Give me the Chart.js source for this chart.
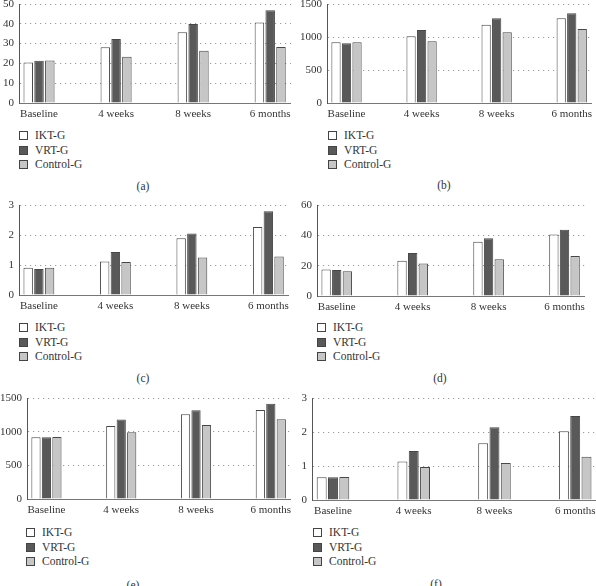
<!DOCTYPE html>
<html>
<head>
<meta charset="utf-8">
<script src="https://cdn.jsdelivr.net/npm/chart.js@4.4.0/dist/chart.umd.min.js"></script>
<style>
  body { margin: 0; width: 596px; height: 586px; position: relative; overflow: hidden; background: #fff;
         font-family: "Liberation Serif", serif; color: #333; }
  canvas { position: absolute; }
  .leg { position: absolute; font-size: 11.5px; line-height: 12px; height: 12px; white-space: nowrap; }
  .leg .box { display: inline-block; width: 7px; height: 7px; border: 1px solid #444; margin-right: 7px; vertical-align: -1px; }
  .cap { position: absolute; font-size: 11.5px; transform: translate(-50%, -50%); }
</style>
</head>
<body>
<script>
// categories and series
const timepoints = ['Baseline', '4 weeks', '8 weeks', '6 months'];
const groups = ['IKT-G', 'VRT-G', 'Control-G'];
const groupColors = ['#ffffff', '#595959', '#c6c6c6'];

// values (IKT-G, VRT-G, Control-G)
const iktA = [20.4, 28.1, 35.7, 40.6];
const vrtA = [21.4, 32.3, 39.9, 46.8];
const ctlA = [21.5, 23.4, 26.4, 28.3];

const iktB = [919, 1010, 1187, 1283];
const vrtB = [904, 1106, 1283, 1359];
const ctlB = [919, 934, 1071, 1121];

const iktC = [0.91, 1.12, 1.89, 2.27];
const vrtC = [0.87, 1.43, 2.05, 2.79];
const ctlC = [0.91, 1.10, 1.25, 1.28];

const iktD = [17.4, 23.2, 35.8, 40.6];
const vrtD = [17.2, 28.3, 38.0, 43.7];
const ctlD = [16.3, 21.4, 24.3, 26.3];

const iktE = [918, 1085, 1258, 1322];
const vrtE = [918, 1179, 1317, 1416];
const ctlE = [922, 992, 1100, 1184];

const iktF = [0.67, 1.13, 1.67, 2.02];
const vrtF = [0.67, 1.44, 2.14, 2.47];
const ctlF = [0.68, 0.97, 1.09, 1.27];

// y axis ranges
const yMaxA = 50, yStepA = 10;
const yMaxB = 1500, yStepB = 500;
const yMaxC = 3, yStepC = 1;
const yMaxD = 60, yStepD = 20;
const yMaxE = 1500, yStepE = 500;
const yMaxF = 3, yStepF = 1;

// panel placement on the page
const panels = [
  { tag: '(a)', series: [iktA, vrtA, ctlA], max: yMaxA, step: yStepA, left: 0,   axisX: 19,  right: 290, top: 4,   bottom: 103, legX: 19,  legY: 135, capX: 143, capY: 186 },
  { tag: '(b)', series: [iktB, vrtB, ctlB], max: yMaxB, step: yStepB, left: 296, axisX: 327, right: 591, top: 4,   bottom: 103, legX: 328, legY: 135, capX: 444, capY: 185 },
  { tag: '(c)', series: [iktC, vrtC, ctlC], max: yMaxC, step: yStepC, left: 0,   axisX: 19,  right: 288, top: 205, bottom: 295, legX: 19,  legY: 327, capX: 143, capY: 378 },
  { tag: '(d)', series: [iktD, vrtD, ctlD], max: yMaxD, step: yStepD, left: 296, axisX: 317, right: 584, top: 205, bottom: 296, legX: 317, legY: 327, capX: 440, capY: 378 },
  { tag: '(e)', series: [iktE, vrtE, ctlE], max: yMaxE, step: yStepE, left: 0,   axisX: 27,  right: 290, top: 398, bottom: 499, legX: 26,  legY: 532, capX: 133, capY: 585 },
  { tag: '(f)', series: [iktF, vrtF, ctlF], max: yMaxF, step: yStepF, left: 296, axisX: 312, right: 596, top: 398, bottom: 500, legX: 313, legY: 532, capX: 436, capY: 584 }
];

const FONT = { family: 'Liberation Serif', size: 11 };
const TOP_PAD = 8, X_H = 20;

panels.forEach(p => {
  const canvas = document.createElement('canvas');
  const cTop = p.top - TOP_PAD;
  canvas.width = p.right - p.left + 1;
  canvas.height = p.bottom + X_H - cTop;
  canvas.style.left = p.left + 'px';
  canvas.style.top = cTop + 'px';
  document.body.appendChild(canvas);

  new Chart(canvas.getContext('2d'), {
    type: 'bar',
    data: {
      datasets: p.series.map((vals, k) => ({
        label: groups[k],
        data: vals.map((v, i) => ({ x: i, y: v })),
        backgroundColor: groupColors[k],
        borderColor: '#474747',
        borderWidth: 1,
        categoryPercentage: 0.42,
        barPercentage: 0.88
      }))
    },
    options: {
      responsive: false,
      animation: false,
      layout: { padding: { top: TOP_PAD, left: 0, right: 0, bottom: 0 } },
      plugins: { legend: { display: false }, tooltip: { enabled: false } },
      scales: {
        x: {
          type: 'linear',
          offset: false,
          min: -0.26,
          max: 3.27,
          grid: { display: false, drawTicks: false },
          border: { display: true, color: '#777', width: 1 },
          afterBuildTicks: s => { s.ticks = timepoints.map((t, i) => ({ value: i })); },
          afterFit: s => { s.height = X_H; s.paddingLeft = 0; s.paddingRight = 0; },
          ticks: {
            autoSkip: false, maxRotation: 0, padding: 5, color: '#333', font: FONT,
            callback: v => timepoints[v]
          }
        },
        y: {
          min: 0,
          max: p.max,
          grid: { color: '#9a9a9a', lineWidth: 1, drawTicks: false },
          border: { display: true, color: '#555', width: 1, dash: [1.2, 3.8] },
          afterFit: s => { s.width = p.axisX - p.left; s.paddingTop = 0; s.paddingBottom = 0; },
          ticks: { stepSize: p.step, padding: 5, color: '#333', font: FONT, callback: v => String(v) }
        }
      }
    }
  });

  // legend below each panel, one row per group
  groups.forEach((g, k) => {
    const row = document.createElement('div');
    row.className = 'leg';
    row.style.left = p.legX + 'px';
    row.style.top = (p.legY + k * 14.5 - 6) + 'px';
    row.innerHTML = '<span class="box" style="background:' + groupColors[k] + '"></span>' + g;
    document.body.appendChild(row);
  });

  const cap = document.createElement('div');
  cap.className = 'cap';
  cap.style.left = p.capX + 'px';
  cap.style.top = p.capY + 'px';
  cap.textContent = p.tag;
  document.body.appendChild(cap);
});
</script>
</body>
</html>
